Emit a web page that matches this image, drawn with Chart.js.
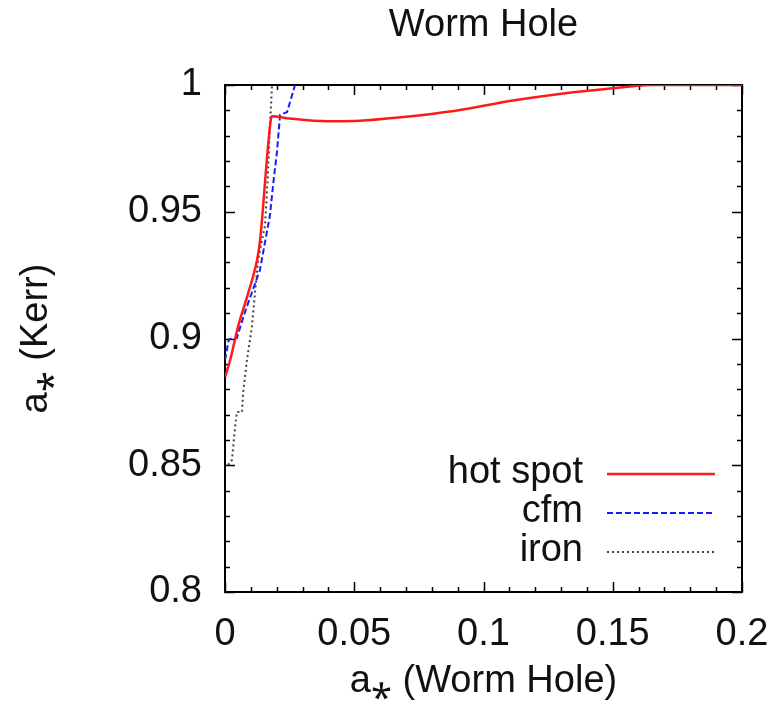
<!DOCTYPE html>
<html>
<head>
<meta charset="utf-8">
<title>Worm Hole</title>
<script src="https://cdn.jsdelivr.net/npm/chart.js@4.4.1/dist/chart.umd.min.js"></script>
<style>
  html, body { margin:0; padding:0; background:#fff }
  #wrap { width:781px; height:707px; position:relative }
</style>
</head>
<body>
<div id="wrap"><canvas id="wormHole" width="781" height="707"></canvas></div>
<script>
// spin of the worm hole vs. fitted Kerr spin, three methods
const hotSpotX = [0, 0.002, 0.005, 0.009, 0.0124, 0.0135, 0.0147, 0.0157, 0.0168, 0.0181, 0.025, 0.0395, 0.05, 0.065, 0.08, 0.0909, 0.1095, 0.1257, 0.1451, 0.1578, 0.1644, 0.2]
const hotSpotY = [0.8848, 0.8915, 0.9045, 0.918, 0.931, 0.9381, 0.9515, 0.9645, 0.9775, 0.9877, 0.9868, 0.9857, 0.9858, 0.987, 0.9886, 0.9901, 0.9936, 0.996, 0.9982, 0.9995, 1.0, 1.0]

const cfmX = [0, 0.0015, 0.0046, 0.0077, 0.0135, 0.0155, 0.0174, 0.0186, 0.0201, 0.0213, 0.024, 0.0271]
const cfmY = [0.8915, 0.8997, 0.9002, 0.9104, 0.927, 0.9381, 0.9487, 0.9606, 0.9736, 0.9882, 0.9893, 1.0]

const ironX = [0.0012, 0.0027, 0.0039, 0.0046, 0.0066, 0.007, 0.0085, 0.0104, 0.0116, 0.0128, 0.0155, 0.0166, 0.0174, 0.0182]
const ironY = [0.8501, 0.8521, 0.8651, 0.871, 0.871, 0.8785, 0.8915, 0.9045, 0.918, 0.931, 0.9448, 0.9645, 0.9842, 1.0]

const xTicks = [0, 0.05, 0.1, 0.15, 0.2]
const yTicks = [0.8, 0.85, 0.9, 0.95, 1]

const FONT = '"Liberation Sans", Arial, Helvetica, sans-serif'
const FS = 38

const pts = (xs, ys) => xs.map((x, i) => ({x, y: ys[i]}))
const fmt = v => String(+v.toFixed(2))

// gnuplot style frame: border plus inward major/minor ticks on all sides
const framePlugin = {
  id: 'frame',
  afterLayout(chart) {
    // centre the title over the plot box rather than the whole canvas
    const t = chart.titleBlock
    if (t) { t.left = chart.chartArea.left; t.right = chart.chartArea.right; t.width = t.right - t.left }
  },
  beforeDatasetsDraw(chart) {
    const {ctx, chartArea: a, scales: {x, y}} = chart
    ctx.save()
    ctx.strokeStyle = '#000'
    ctx.lineWidth = 1.5
    const major = 10, minor = 5
    for (let i = 0; i <= 20; i++) {
      const v = i * 0.01
      const len = i % 5 === 0 ? major : minor
      const px = Math.round(x.getPixelForValue(v)) + 0.5
      ctx.beginPath()
      ctx.moveTo(px, a.bottom); ctx.lineTo(px, a.bottom - len)
      ctx.moveTo(px, a.top); ctx.lineTo(px, a.top + len)
      ctx.stroke()
      const vy = 0.8 + i * 0.01
      const py = Math.round(y.getPixelForValue(vy)) + 0.5
      ctx.beginPath()
      ctx.moveTo(a.left, py); ctx.lineTo(a.left + len, py)
      ctx.moveTo(a.right, py); ctx.lineTo(a.right - len, py)
      ctx.stroke()
    }
    ctx.lineWidth = 2
    ctx.strokeRect(a.left, a.top, a.right - a.left, a.bottom - a.top)
    ctx.restore()
  }
}

// key in the lower right corner, text right aligned before the line sample
const keyPlugin = {
  id: 'key',
  afterDatasetsDraw(chart) {
    const {ctx} = chart
    const textRight = 583, lineL = 607, lineR = 715
    const rowY = [473, 512, 551]
    ctx.save()
    ctx.font = FS + 'px ' + FONT
    ctx.textAlign = 'right'
    ctx.textBaseline = 'middle'
    chart.data.datasets.forEach((ds, i) => {
      ctx.fillStyle = '#111'
      ctx.fillText(ds.label, textRight, rowY[i])
      ctx.strokeStyle = ds.borderColor
      ctx.lineWidth = ds.borderWidth
      ctx.setLineDash(ds.borderDash || [])
      ctx.beginPath()
      ctx.moveTo(lineL, rowY[i] + 1); ctx.lineTo(lineR, rowY[i] + 1)
      ctx.stroke()
    })
    ctx.restore()
  }
}

new Chart(document.getElementById('wormHole'), {
  type: 'line',
  data: {
    datasets: [
      {label: 'hot spot', data: pts(hotSpotX, hotSpotY), borderColor: '#ff1a1a', borderWidth: 2.5, cubicInterpolationMode: 'monotone'},
      {label: 'cfm', data: pts(cfmX, cfmY), borderColor: '#1a1aff', borderWidth: 2, borderDash: [6, 3]},
      {label: 'iron', data: pts(ironX, ironY), borderColor: '#444', borderWidth: 2, borderDash: [2, 3]}
    ]
  },
  options: {
    responsive: false,
    animation: false,
    devicePixelRatio: 1,
    layout: {padding: {left: 0, right: 39, top: 0, bottom: 0}},
    elements: {point: {radius: 0}, line: {tension: 0, fill: false}},
    datasets: {line: {clip: 0}},
    plugins: {
      legend: {display: false},
      tooltip: {enabled: false},
      title: {
        display: true, text: 'Worm Hole', color: '#111',
        font: {family: FONT, size: FS, weight: 'normal'},
        padding: {top: 3, bottom: 36.4}
      }
    },
    scales: {
      x: {
        type: 'linear', min: 0, max: 0.2,
        afterBuildTicks: s => { s.ticks = xTicks.map(v => ({value: v})) },
        afterFit: s => { s.height = 115; s.paddingLeft = 0; s.paddingRight = 0 },
        grid: {display: false, drawTicks: false},
        border: {display: false},
        ticks: {callback: fmt, color: '#111', padding: 20, maxRotation: 0, font: {family: FONT, size: FS}},
        title: {display: true, text: 'a\u204E (Worm Hole)', color: '#111', padding: {top: 0, bottom: 3}, font: {family: FONT, size: FS}}
      },
      y: {
        type: 'linear', min: 0.8, max: 1,
        afterBuildTicks: s => { s.ticks = yTicks.map(v => ({value: v})) },
        afterFit: s => { s.width = 225; s.paddingTop = 0; s.paddingBottom = 0 },
        grid: {display: false, drawTicks: false},
        border: {display: false},
        ticks: {callback: fmt, color: '#111', padding: 23, font: {family: FONT, size: FS}},
        title: {display: true, text: 'a\u204E (Kerr)', color: '#111', padding: {top: 14, bottom: 0}, font: {family: FONT, size: FS}}
      }
    }
  },
  plugins: [framePlugin, keyPlugin]
})
</script>
</body>
</html>
